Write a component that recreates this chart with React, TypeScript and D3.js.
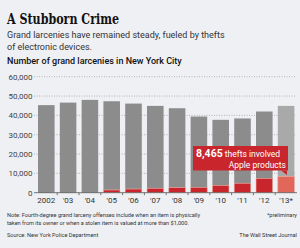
import React from 'react';
import * as d3 from 'd3';

const years = ['2002', "'03", "'04", "'05", "'06", "'07", "'08", "'09", "'10", "'11", "'12", "'13*"];
const totalThefts = [45300, 46600, 48000, 47300, 46100, 44900, 43700, 39400, 37700, 38400, 42000, 44900];
const appleThefts = [0, 0, 0, 1400, 1900, 2300, 2600, 2800, 3800, 4900, 7450, 8465];
const yTicks = [0, 10000, 20000, 30000, 40000, 50000, 60000];

const W = 300, H = 248;
const sans = 'Roboto, "Open Sans", sans-serif';

const App = () => {
    const x = d3.scaleBand<string>().domain(years).range([35.4, 297]).paddingInner(0.24).paddingOuter(0.12);
    const y = d3.scaleLinear().domain([0, 60000]).range([192.7, 76.7]);
    const fmt = d3.format(',');
    const last = years.length - 1;
    const gaps = years.slice(0, last).map(yr => (x(yr) as number) + x.bandwidth() + (x.step() - x.bandwidth()) / 2);

    return (
        <svg width={W} height={H} style={{ display: 'block' }}>
            <style>{'body{margin:0}'}</style>
            <rect width={W} height={H} fill="#eef0f4" />
            <text x={7} y={24} fontFamily='"DejaVu Serif", serif' fontWeight="bold" fontSize={15} fill="#111" textLength={112} lengthAdjust="spacingAndGlyphs">A Stubborn Crime</text>
            <text x={7} y={38} fontFamily={sans} fontSize={9} fill="#333">Grand larcenies have remained steady, fueled by thefts</text>
            <text x={7} y={50} fontFamily={sans} fontSize={9} fill="#333">of electronic devices.</text>
            <text x={7} y={64} fontFamily={sans} fontWeight="500" fontSize={9} fill="#111">Number of grand larcenies in New York City</text>

            {yTicks.filter(t => t > 0).map(t => (
                <line key={t} x1={34} x2={296} y1={y(t)} y2={y(t)} stroke="#999" strokeWidth={0.7} strokeDasharray="1,1.5" />
            ))}
            {yTicks.map(t => (
                <text key={t} x={32.5} y={y(t) + 3} textAnchor="end" fontFamily={sans} fontSize={8} fill="#444">{fmt(t)}</text>
            ))}

            {years.map((yr, i) => (
                <g key={yr}>
                    <rect x={x(yr)} y={y(totalThefts[i])} width={x.bandwidth()} height={y(0) - y(totalThefts[i])} fill={i === last ? '#a9a9a9' : '#8c8c8c'} />
                    {appleThefts[i] > 0 && (
                        <rect x={x(yr)} y={y(appleThefts[i])} width={x.bandwidth()} height={y(0) - y(appleThefts[i])} fill={i === last ? '#e0675a' : '#c9252c'} stroke="#f0b5a8" strokeWidth={0.6} />
                    )}
                    <text x={(x(yr) as number) + x.bandwidth() / 2} y={203} textAnchor="middle" fontFamily={sans} fontSize={8} fill="#333">{yr}</text>
                </g>
            ))}

            <line x1={34} x2={297} y1={y(0)} y2={y(0)} stroke="#555" strokeWidth={0.8} />
            {gaps.map((g, i) => (
                <line key={i} x1={g} x2={g} y1={y(0)} y2={y(0) + 2.5} stroke="#555" strokeWidth={0.8} />
            ))}

            {/* annotation */}
            <rect x={193} y={146} width={95} height={24.5} fill="#c9252c" />
            <path d="M281,170.5 L287,170.5 L287,175 Z" fill="#c9252c" />
            <text x={196} y={157} fontFamily={sans} fontSize={10.5} fontWeight="bold" fill="#fff">{fmt(appleThefts[last])}
                <tspan fontWeight="normal" fontSize={8.5}> thefts involved</tspan>
            </text>
            <text x={286} y={167.5} textAnchor="end" fontFamily={sans} fontSize={8.5} fill="#fff">Apple products</text>

            <text x={7} y={217} fontFamily={sans} fontSize={5.6} fill="#333">Note: Fourth-degree grand larceny offenses include when an item is physically</text>
            <text x={7} y={225} fontFamily={sans} fontSize={5.6} fill="#333">taken from its owner or when a stolen item is valued at more than $1,000.</text>
            <text x={297} y={217} textAnchor="end" fontFamily={sans} fontSize={5.6} fill="#333">*preliminary</text>
            <text x={7} y={237} fontFamily={sans} fontSize={5.6} fill="#333">Source: New York Police Department</text>
            <text x={297} y={237} textAnchor="end" fontFamily={sans} fontSize={5.6} fill="#333">The Wall Street Journal</text>
        </svg>
    );
};

export default App;
